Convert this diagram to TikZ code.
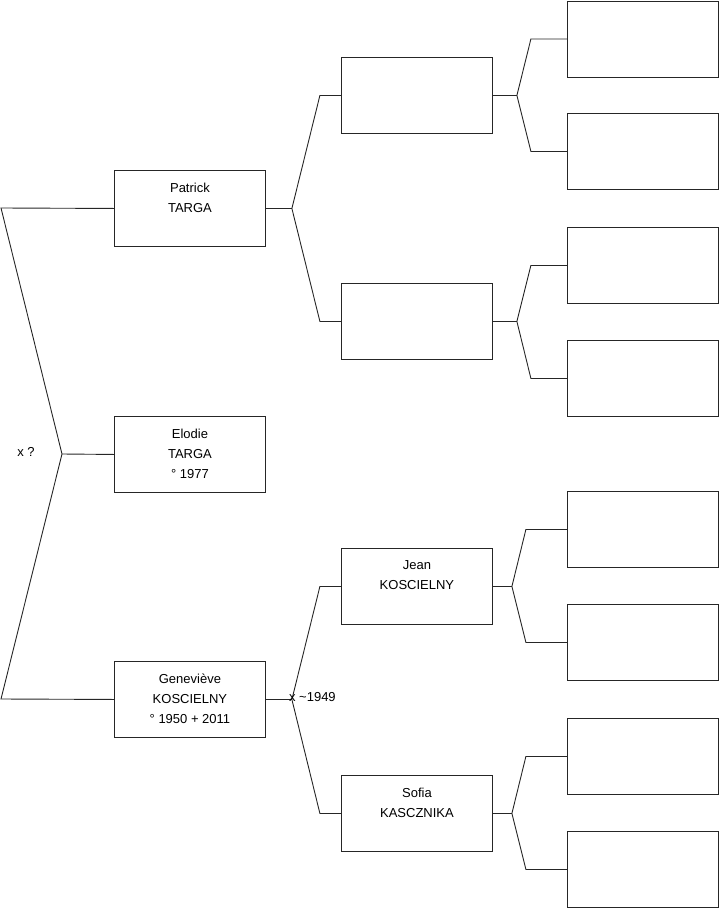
\documentclass[tikz,border=0pt]{standalone}
\usepackage{fontspec}
\setmainfont{Liberation Sans}
\usetikzlibrary{calc, positioning}

\tikzset{
  person/.style={draw=black!85, line width=0.9pt, minimum width=151pt,
    minimum height=76pt, inner sep=0pt, anchor=north west},
  link/.style={draw=black!85, line width=0.9pt},
  note/.style={inner sep=0pt, font=\fontsize{13}{16}\selectfont},
}
% text of a box, set from its top edge
\newcommand{\who}[1]{\parbox[c][76pt][t]{151pt}{\centering
  \fontsize{13}{20}\selectfont\vspace*{12.5pt}#1}}

\begin{document}
\begin{tikzpicture}[x=1pt,y=-1pt]
\useasboundingbox (0,0) rectangle (719,908);

% generation 1
\node[person] (patrick) at (114,170) {\who{Patrick\\TARGA}};
\node[person] (elodie) at (114,416) {\who{Elodie\\TARGA\\° 1977}};
\node[person] (genevieve) at (114,661) {\who{Geneviève\\KOSCIELNY\\° 1950 + 2011}};

% generation 2
\node[person] (ptfather) at (341,57) {};
\node[person] (ptmother) at (341,283) {};
\node[person] (jean) at (341,548) {\who{Jean\\KOSCIELNY}};
\node[person] (sofia) at (341,775) {\who{Sofia\\KASCZNIKA}};

% generation 3
\foreach \i/\top in {1/0.5,2/113,3/227,4/340,5/491,6/604,7/718,8/831} {
  \node[person] (gp\i) at (567,\top) {};
}

% parents of Elodie
\coordinate (root) at (62,454);
\coordinate (rtop) at (1,208);
\coordinate (rbot) at (1,699);
\draw[link] (patrick.west) -- (rtop) -- (root) -- (rbot) -- (genevieve.west);
\draw[link] (root) -- (elodie.west);
\node[note] (xroot) at (26,452) {x ?};

% forks to the parents
\foreach \p/\a/\b/\f/\s in {patrick/ptfather/ptmother/26/28,
    genevieve/jean/sofia/26/28, ptfather/gp1/gp2/24/14,
    ptmother/gp3/gp4/24/14, jean/gp5/gp6/19/14, sofia/gp7/gp8/19/14} {
  \draw[link] (\p.east) -- ++(\f,0) coordinate (fork\p);
  \path (fork\p) ++(\s,0) coordinate (k\p);
  \draw[link] (fork\p) -- (k\p |- \a.west) -- (\a.west);
  \draw[link] (fork\p) -- (k\p |- \b.west) -- (\b.west);
}

\node[note, anchor=west] (marriage) at ([xshift=-3pt,yshift=2pt]forkgenevieve)
  {x \textasciitilde1949};
\end{tikzpicture}
\end{document}
